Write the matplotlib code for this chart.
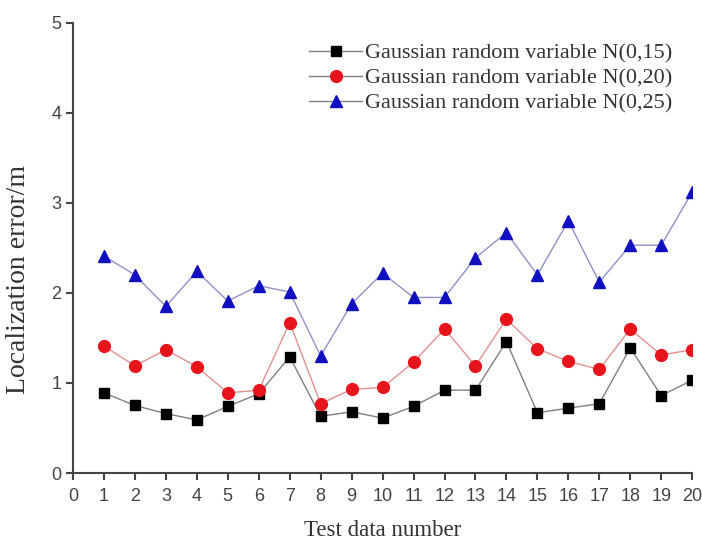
import matplotlib
matplotlib.use("Agg")
import matplotlib.pyplot as plt
import numpy as np

# test index and localization error for each noise level
test_num = np.arange(1, 21)
err_n15 = [0.89, 0.75, 0.66, 0.59, 0.74, 0.88, 1.29, 0.63, 0.68, 0.61,
           0.74, 0.92, 0.92, 1.46, 0.67, 0.72, 0.77, 1.39, 0.86, 1.03]
err_n20 = [1.41, 1.19, 1.37, 1.18, 0.89, 0.92, 1.67, 0.77, 0.93, 0.95,
           1.23, 1.60, 1.19, 1.71, 1.38, 1.24, 1.15, 1.60, 1.31, 1.37]
err_n25 = [2.41, 2.20, 1.85, 2.24, 1.91, 2.08, 2.01, 1.30, 1.88, 2.22,
           1.95, 1.95, 2.39, 2.67, 2.20, 2.80, 2.12, 2.53, 2.53, 3.12]
labels = ["Gaussian random variable N(0,15)",
          "Gaussian random variable N(0,20)",
          "Gaussian random variable N(0,25)"]

fig = plt.figure(figsize=(7.02, 5.44), dpi=100)
ax = fig.add_axes([0.104, 0.1305, 0.882, 0.8275])

ax.plot(test_num, err_n15, color="#808080", lw=1, marker="s", ms=7.5,
        mfc="black", mec="black", label=labels[0])
ax.plot(test_num, err_n20, color="#e09090", lw=1, marker="o", ms=8.5,
        mfc="#e8141c", mec="#e8141c", label=labels[1])
ax.plot(test_num, err_n25, color="#9090c8", lw=1, marker="^", ms=8.5,
        mfc="#1010c0", mec="#1010c0", label=labels[2])

ax.set_xlim(0, 20)
ax.set_ylim(0, 5)
ax.set_xticks(range(0, 21))
ax.set_yticks(range(0, 6))
for s in ["top", "right"]:
    ax.spines[s].set_visible(False)
for s in ["left", "bottom"]:
    ax.spines[s].set_color("#444444")
    ax.spines[s].set_linewidth(1.5)
ax.tick_params(direction="out", length=5, width=1.5, color="#444444",
               labelsize=13, labelcolor="#444444")
ax.tick_params(axis="x", pad=6)
for t in ax.get_xticklabels() + ax.get_yticklabels():
    t.set_family(["DejaVu Sans Condensed", "Liberation Sans"])

ax.set_xlabel("Test data number", family="Liberation Serif", fontsize=16.5,
              color="#333333")
ax.set_ylabel("Localization error/m", family="Liberation Serif", fontsize=20,
              color="#333333")
ax.xaxis.set_label_coords(0.5, -0.104)
ax.yaxis.set_label_coords(-0.068, 0.43)

leg = fig.legend(loc="upper left", bbox_to_anchor=(309 / 702, 1 - 43 / 544),
                 frameon=False, borderpad=0, borderaxespad=0,
                 prop={"family": "Liberation Serif", "size": 16},
                 handlelength=2.4, handletextpad=0.1, labelspacing=0.2)
for t in leg.get_texts():
    t.set_color("#333333")
for h in leg.legend_handles:
    h.set_color("#808080")

fig.savefig("out.png", dpi=100)
